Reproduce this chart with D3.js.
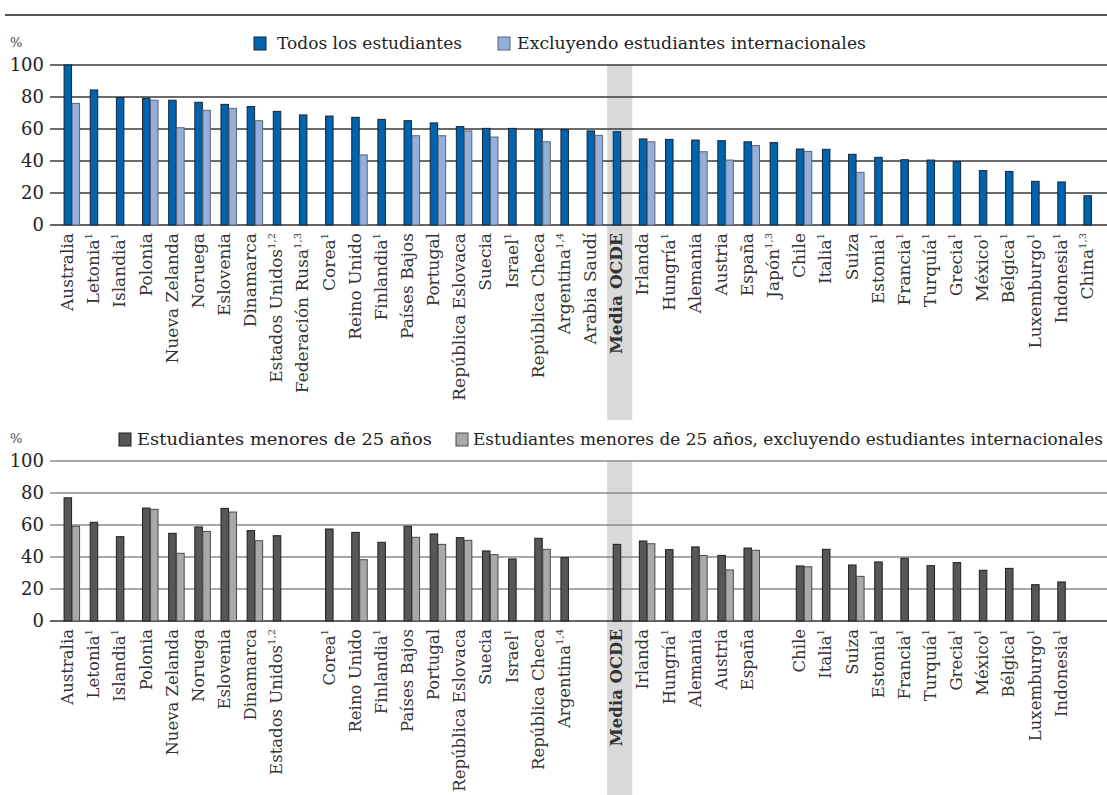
<!DOCTYPE html>
<html><head><meta charset="utf-8">
<script src="https://cdn.jsdelivr.net/npm/d3@7"></script>
<style>
html,body{margin:0;padding:0;background:#fff;}
svg{display:block;font-family:"DejaVu Serif",serif;}
</style></head>
<body><svg id="c" width="1107" height="795"></svg>
<script>
const categories = ["Australia","Letonia","Islandia","Polonia","Nueva Zelanda","Noruega","Eslovenia","Dinamarca","Estados Unidos","Federación Rusa","Corea","Reino Unido","Finlandia","Países Bajos","Portugal","República Eslovaca","Suecia","Israel","República Checa","Argentina","Arabia Saudí","Media OCDE","Irlanda","Hungría","Alemania","Austria","España","Japón","Chile","Italia","Suiza","Estonia","Francia","Turquía","Grecia","México","Bélgica","Luxemburgo","Indonesia","China"];
const notes = ["","1","1","","","","","","1,2","1,3","1","","1","","","","","1","","1,4","","","","1","","","","1,3","","1","","1","1","1","1","1","1","1","1","1,3"];
const todos = [100,84.4,79.6,79.2,78,76.7,75.4,74,71,68.8,68.1,67.3,66,65.2,63.8,61.5,60.4,60.4,59.6,59.6,58.8,58.3,53.8,53.5,53.1,52.7,52,51.5,47.5,47.3,44.2,42.3,40.8,40.6,39.6,34,33.5,27.3,26.9,18.3];
const excluyendo = [76,null,null,78,60.8,71.7,72.9,65.2,null,null,null,43.8,null,55.8,55.8,58.8,55,null,52,null,56,null,52,null,45.8,40.6,49.6,null,46,null,32.9,null,null,null,null,null,null,null,null,null];
const menores25 = [77,61.7,52.7,70.6,54.8,58.8,70.4,56.5,53.3,null,57.5,55.4,49.2,59.2,54.4,52.1,43.8,38.8,51.7,39.6,null,47.9,50,44.6,46.3,41,45.6,null,34.4,44.8,35,36.9,39.2,34.6,36.5,31.7,32.9,22.7,24.4,null];
const menores25Excl = [59.2,null,null,69.8,42.3,56,68.1,50.2,null,null,null,38.3,null,52.3,47.9,50.4,41.5,null,44.8,null,null,null,48.3,null,41,31.9,44.2,null,33.9,null,27.9,null,null,null,null,null,null,null,null,null];
const yTicks = [0,20,40,60,80,100];
const avgName = "Media OCDE";

const svg = d3.select("#c");
const x = d3.scaleBand().domain(categories).range([59,1105]);
const bw = x.bandwidth();
const sub = d3.scaleBand().domain(["a","b"]).range([bw/2-8, bw/2+8]);

// title (cut at top edge, as in the reference) and rule
svg.append("text").attr("x",1104).attr("y",-4).attr("text-anchor","end")
  .attr("font-weight","bold").attr("font-size",21).attr("fill","#222")
  .text("Tasas de ingreso en educación terciaria, según el tipo (2016)");
svg.append("line").attr("x1",5).attr("x2",1107).attr("y1",15).attr("y2",15)
  .attr("stroke","#555").attr("stroke-width",2);

function panel(cfg){
  const y = d3.scaleLinear().domain([0,100]).range([cfg.y0, cfg.y0-160]);
  const g = svg.append("g");
  g.append("rect").attr("x", x(avgName)-1).attr("width", bw-1)
    .attr("y", y(100)).attr("height", cfg.bandBottom - y(100)).attr("fill","#d9d9db");
  g.append("g").selectAll("line").data(yTicks).join("line")
    .attr("x1",50).attr("x2",1107).attr("y1",d=>y(d)).attr("y2",d=>y(d))
    .attr("stroke",d=>d===0?"#333":cfg.grid).attr("stroke-width",d=>d===0?1.6:1.4);
  const ax = d3.axisLeft(y).tickValues(yTicks).tickSize(0).tickPadding(6);
  const axg = g.append("g").attr("transform","translate(50,0)").call(ax);
  axg.select(".domain").remove();
  axg.selectAll("text").attr("font-family","DejaVu Serif").attr("font-size",18).attr("fill","#222");
  g.append("text").attr("x",10).attr("y",cfg.y0-178).attr("font-size",13).attr("fill","#444").text("%");
  const s = [{k:"a",v:cfg.v1,fill:cfg.c1,stroke:cfg.s1},{k:"b",v:cfg.v2,fill:cfg.c2,stroke:cfg.s2}];
  s.forEach(ser=>{
    g.append("g").selectAll("rect")
      .data(categories.map((c,i)=>({c,v:ser.v[i]})).filter(d=>d.v!=null))
      .join("rect")
      .attr("x",d=>x(d.c)+sub(ser.k)).attr("width",sub.bandwidth()-0.5)
      .attr("y",d=>y(d.v)).attr("height",d=>y(0)-y(d.v))
      .attr("fill",ser.fill).attr("stroke",ser.stroke).attr("stroke-width",1);
  });
  const lab = g.append("g").selectAll("text")
    .data(categories.map((c,i)=>({c,i})).filter(d=>cfg.v1[d.i]!=null))
    .join("text")
    .attr("transform",d=>`translate(${x(d.c)+bw/2+1},${y(0)+8}) rotate(-90)`)
    .attr("text-anchor","end").attr("font-size",cfg.labSize).attr("fill","#333")
    .attr("font-weight",d=>d.c===avgName?"bold":null);
  lab.each(function(d){
    const t = d3.select(this);
    t.append("tspan").text(d.c);
    if(notes[d.i]) t.append("tspan").attr("font-size",10).attr("dy",-7).text(notes[d.i]);
  });
  const lg = g.append("g");
  cfg.legend.forEach(L=>{
    lg.append("rect").attr("x",L.x).attr("y",cfg.y0-188).attr("width",12).attr("height",13)
      .attr("fill",L.fill).attr("stroke",L.stroke).attr("stroke-width",1);
    lg.append("text").attr("x",L.tx).attr("y",cfg.y0-176).attr("font-size",17).attr("fill","#222")
      .attr("textLength",L.w).attr("lengthAdjust","spacingAndGlyphs").text(L.text);
  });
}

panel({y0:225, bandBottom:420, grid:"#3a3a3a", labSize:17,
  v1:todos, v2:excluyendo, c1:"#0063ae", s1:"#1b2430", c2:"#95afdc", s2:"#5b6470",
  legend:[{x:254,tx:277,w:185,fill:"#0063ae",stroke:"#1b2430",text:"Todos los estudiantes"},
          {x:498,tx:517,w:349,fill:"#95afdc",stroke:"#5b6470",text:"Excluyendo estudiantes internacionales"}]});
panel({y0:621, bandBottom:795, grid:"#8a8a8a", labSize:16.5,
  v1:menores25, v2:menores25Excl, c1:"#575757", s1:"#1e1e1e", c2:"#a9a9a9", s2:"#4a4a4a",
  legend:[{x:119,tx:137,w:295,fill:"#575757",stroke:"#1e1e1e",text:"Estudiantes menores de 25 años"},
          {x:456,tx:473,w:630,fill:"#a9a9a9",stroke:"#4a4a4a",text:"Estudiantes menores de 25 años, excluyendo estudiantes internacionales"}]});
</script></body></html>
